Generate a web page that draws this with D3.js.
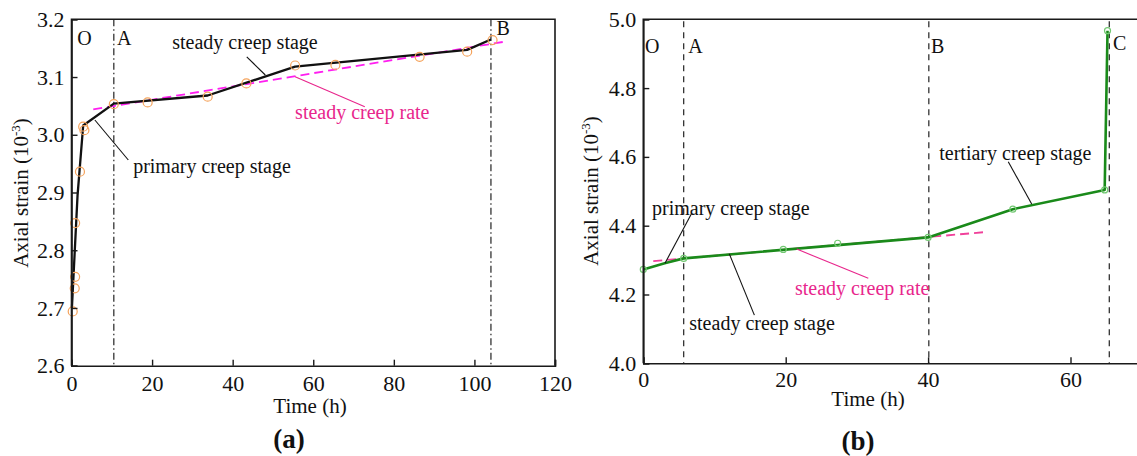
<!DOCTYPE html>
<html>
<head>
<meta charset="utf-8">
<script src="https://cdn.jsdelivr.net/npm/d3@7"></script>
<style>
  html, body { margin: 0; padding: 0; background: #fff; }
  svg, svg text { font-family: "Liberation Serif", "Times New Roman", serif; }
</style>
</head>
<body>
<svg id="chart" width="1137" height="456"></svg>
<script>
// ---------- Panel (a): measured creep data ----------
const timeA   = [0.3, 0.8, 0.9, 0.9, 2.1, 2.9, 3.2, 10.5, 18.9, 33.8, 43.4, 55.5, 65.5, 86.4, 98.2, 104.5];
const strainA = [2.694, 2.734, 2.754, 2.847, 2.936, 3.014, 3.008, 3.053, 3.056, 3.066, 3.089, 3.120, 3.121, 3.135, 3.144, 3.164];
// fitted creep curve
const curveTimeA   = [0.1, 1.5, 2.9, 10.5, 33.8, 55.5, 98.2, 104.1];
const curveStrainA = [2.700, 2.895, 3.016, 3.054, 3.068, 3.118, 3.147, 3.165];
// steady creep rate line
const rateTimeA   = [5.4, 107.3];
const rateStrainA = [3.044, 3.161];
// stage boundaries
const stageTimeA  = [10.5, 104.1];
const stageNameA  = ["A", "B"];
const xTicksA = [0, 20, 40, 60, 80, 100, 120];
const yTicksA = [2.6, 2.7, 2.8, 2.9, 3.0, 3.1, 3.2];

// ---------- Panel (b): measured creep data ----------
const timeB   = [0, 5.67, 19.66, 27.3, 40.0, 51.9, 64.8, 65.2];
const strainB = [4.273, 4.305, 4.331, 4.349, 4.366, 4.448, 4.504, 4.967];
const curveTimeB   = [0, 3.0, 5.67, 40.0, 51.9, 64.8, 65.2];
const curveStrainB = [4.273, 4.291, 4.305, 4.366, 4.448, 4.504, 4.967];
const rateTimeB   = [1.4, 47.75];
const rateStrainB = [4.297, 4.381];
const stageTimeB  = [5.67, 40.1, 65.45];
const stageNameB  = ["A", "B", "C"];
const xTicksB = [0, 20, 40, 60];
const yTicksB = [4.0, 4.2, 4.4, 4.6, 4.8, 5.0];

const svg = d3.select("#chart");
const FONT = "'Liberation Serif', 'Times New Roman', serif";
const AXIS = "#1a1a1a";
const PINK = "#e8268c";

function drawPanel(cfg) {
  const g = svg.append("g");
  const x = d3.scaleLinear().domain(cfg.xDomain).range(cfg.xRange);
  const y = d3.scaleLinear().domain(cfg.yDomain).range(cfg.yRange);

  // stage boundary lines
  g.selectAll("line.stage").data(cfg.stageTime).join("line")
    .attr("x1", d => x(d)).attr("x2", d => x(d))
    .attr("y1", y(cfg.yDomain[1]) + cfg.stageTopGap).attr("y2", y(cfg.yDomain[0]))
    .attr("stroke", "#333").attr("stroke-width", 1.3)
    .attr("stroke-dasharray", cfg.stageDash);

  // steady creep rate line
  g.append("path")
    .datum(d3.zip(cfg.rateTime, cfg.rateStrain))
    .attr("d", d3.line().x(d => x(d[0])).y(d => y(d[1])))
    .attr("fill", "none").attr("stroke", cfg.rateColor)
    .attr("stroke-width", 1.8).attr("stroke-dasharray", "9,5");

  // fitted curve
  g.append("path")
    .datum(d3.zip(cfg.curveTime, cfg.curveStrain))
    .attr("d", d3.line().x(d => x(d[0])).y(d => y(d[1])))
    .attr("fill", "none").attr("stroke", cfg.lineColor)
    .attr("stroke-width", cfg.lineWidth).attr("stroke-linejoin", "round");

  // measured points
  g.selectAll("circle.pt").data(d3.zip(cfg.time, cfg.strain)).join("circle")
    .attr("cx", d => x(d[0])).attr("cy", d => y(d[1]))
    .attr("r", cfg.r).attr("fill", "none")
    .attr("stroke", cfg.ptColor).attr("stroke-width", 1.2);

  // frame
  const [x0, x1] = cfg.xRange, [yb, yt] = cfg.yRange;
  g.append("path")
    .attr("d", `M${x0},${yb}V${yt}H${x1}V${yb}`)
    .attr("fill", "none").attr("stroke", AXIS).attr("stroke-width", 1.6);

  // axes with inward ticks
  const xAxis = g.append("g").attr("transform", `translate(0,${yb})`)
    .call(d3.axisBottom(x).tickValues(cfg.xTicks).tickSize(-6)
      .tickPadding(cfg.xPad).tickFormat(d3.format("d")));
  const yAxis = g.append("g").attr("transform", `translate(${x0},0)`)
    .call(d3.axisLeft(y).tickValues(cfg.yTicks).tickSize(-6)
      .tickPadding(7).tickFormat(d3.format(".1f")));
  [xAxis, yAxis].forEach(a => {
    a.attr("font-family", FONT).attr("font-size", 22);
    a.select(".domain").attr("stroke", AXIS).attr("stroke-width", 1.6);
    a.selectAll(".tick line").attr("stroke", AXIS).attr("stroke-width", 1.4);
    a.selectAll(".tick text").attr("fill", "#111");
  });

  // stage letters
  cfg.letters.forEach(l => {
    g.append("text").attr("x", x(l.t)).attr("y", y(l.v))
      .attr("font-size", 20).attr("fill", "#111").text(l.s);
  });

  // annotations with leader lines
  cfg.notes.forEach(n => {
    g.append("line")
      .attr("x1", x(n.from[0])).attr("y1", y(n.from[1]))
      .attr("x2", x(n.to[0])).attr("y2", y(n.to[1]))
      .attr("stroke", n.color).attr("stroke-width", 1.1);
    g.append("text").attr("x", x(n.t)).attr("y", y(n.v))
      .attr("font-size", 20).attr("fill", n.color).text(n.text);
  });

  // axis titles
  const yt2 = svg.append("text")
    .attr("transform", `translate(${cfg.yTitle[0]},${cfg.yTitle[1]}) rotate(-90)`)
    .attr("text-anchor", "middle").attr("font-size", 21).attr("fill", "#111");
  yt2.append("tspan").text("Axial strain (10");
  yt2.append("tspan").attr("dy", -8).attr("font-size", 13).text("-3");
  yt2.append("tspan").attr("dy", 8).text(")");

  svg.append("text").attr("x", cfg.xTitle[0]).attr("y", cfg.xTitle[1])
    .attr("text-anchor", "middle").attr("font-size", 21).attr("fill", "#111")
    .text("Time (h)");

  svg.append("text").attr("x", cfg.label[0]).attr("y", cfg.label[1])
    .attr("text-anchor", "middle").attr("font-size", 27).attr("font-weight", "bold")
    .attr("fill", "#111").text(cfg.labelText);
}

drawPanel({
  xDomain: [0, 120], xRange: [71.5, 555],
  yDomain: [2.6, 3.2], yRange: [365.7, 19.3],
  xTicks: xTicksA, yTicks: yTicksA, xPad: 10,
  time: timeA, strain: strainA, curveTime: curveTimeA, curveStrain: curveStrainA,
  rateTime: rateTimeA, rateStrain: rateStrainA, rateColor: "#ff1ef0",
  stageTime: stageTimeA, stageDash: "7,3,1.5,3", stageTopGap: 0,
  lineColor: "#111", lineWidth: 2.3, ptColor: "#f5a35c", r: 4.5,
  letters: [
    { s: "O", t: 1.4, v: 3.155 },
    { s: stageNameA[0], t: 11.3, v: 3.155 },
    { s: stageNameA[1], t: 105.5, v: 3.172 }
  ],
  notes: [
    { text: "steady creep stage", t: 25, v: 3.149, color: "#111",
      from: [43.5, 3.135], to: [48.1, 3.1035] },
    { text: "primary creep stage", t: 15.3, v: 2.934, color: "#111",
      from: [5.8, 3.0256], to: [14.1, 2.9563] },
    { text: "steady creep rate", t: 55.5, v: 3.027, color: PINK,
      from: [55.5, 3.1006], to: [72.8, 3.0486] }
  ],
  yTitle: [28, 193], xTitle: [310, 413], label: [289, 448], labelText: "(a)"
});

drawPanel({
  xDomain: [0, 70], xRange: [643.3, 643.3 + 7.12 * 70],
  yDomain: [4.0, 5.0], yRange: [363.3, 19.3],
  xTicks: xTicksB, yTicks: yTicksB, xPad: 8,
  time: timeB, strain: strainB, curveTime: curveTimeB, curveStrain: curveStrainB,
  rateTime: rateTimeB, rateStrain: rateStrainB, rateColor: "#f0409a",
  stageTime: stageTimeB, stageDash: "6,5", stageTopGap: 2,
  lineColor: "#1a8a1a", lineWidth: 2.6, ptColor: "#72c872", r: 3,
  letters: [
    { s: "O", t: 0.25, v: 4.902 },
    { s: stageNameB[0], t: 6.3, v: 4.902 },
    { s: stageNameB[1], t: 40.4, v: 4.902 },
    { s: stageNameB[2], t: 65.97, v: 4.91 }
  ],
  notes: [
    { text: "primary creep stage", t: 1.22, v: 4.431, color: "#111",
      from: [6.8, 4.436], to: [3.05, 4.291] },
    { text: "steady creep stage", t: 6.46, v: 4.097, color: "#111",
      from: [15.6, 4.140], to: [12.08, 4.318] },
    { text: "steady creep rate", t: 21.3, v: 4.199, color: PINK,
      from: [21.55, 4.332], to: [31.6, 4.247] },
    { text: "tertiary creep stage", t: 41.57, v: 4.591, color: "#111",
      from: [51.26, 4.586], to: [54.55, 4.463] }
  ],
  yTitle: [598, 191], xTitle: [868, 406], label: [858, 450], labelText: "(b)"
});
</script>
</body>
</html>
